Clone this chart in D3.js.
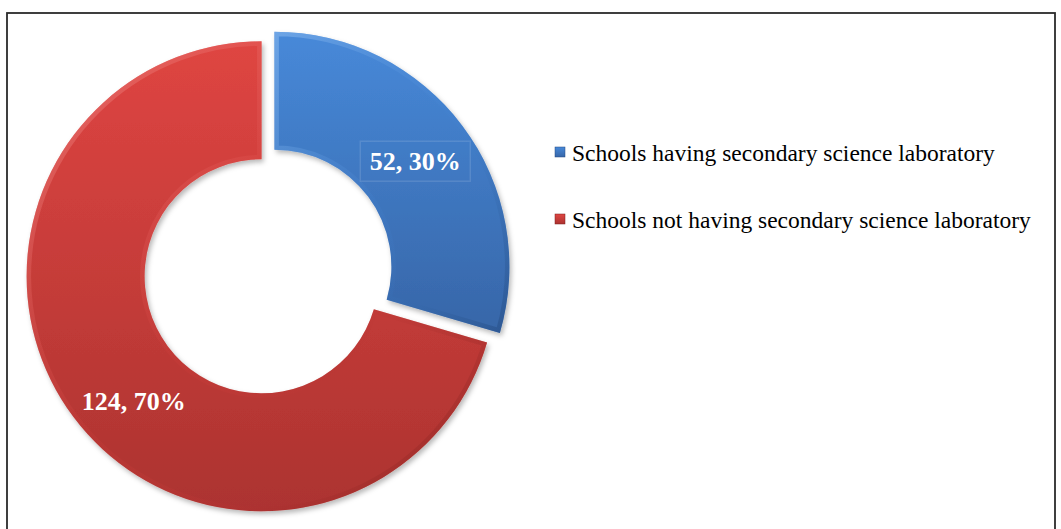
<!DOCTYPE html>
<html>
<head>
<meta charset="utf-8">
<script src="https://cdn.jsdelivr.net/npm/d3@7"></script>
<style>
  body { margin: 0; background: #fff; }
  svg { display: block; }
</style>
</head>
<body>
<div id="chart_root"></div>
<script>
const categories = ["Schools having secondary science laboratory",
    "Schools not having secondary science laboratory"];
const counts = [52, 124];
const percents = ["30%", "70%"];

const width = 1061;
const height = 529;
const center = { x: 268, y: 271.5 };
const outerR = 235;
const innerR = 117;
const explode = 8;
// small nudges to where the data labels sit relative to the slice centroid
const labelShift = [[0, 0], [13, 19]];

const colors = [
    { top: "#4789d9", bottom: "#3766a8", light: "#8fbdf0", dark: "#244a80" },
    { top: "#df4542", bottom: "#ac3330", light: "#f29a97", dark: "#7c1f1d" }
];

const svg = d3.select("#chart_root")
    .append("svg")
    .attr("width", width)
    .attr("height", height)
    .style("font-family", "'Liberation Serif', 'Times New Roman', serif");

const defs = svg.append("defs");

colors.forEach((c, i) => {
    const g = defs.append("linearGradient")
        .attr("id", "fill" + i)
        .attr("x1", 0).attr("y1", 0).attr("x2", 0).attr("y2", 1);
    g.append("stop").attr("offset", "0%").attr("stop-color", c.top);
    g.append("stop").attr("offset", "100%").attr("stop-color", c.bottom);

    const e = defs.append("linearGradient")
        .attr("id", "edge" + i)
        .attr("x1", 0).attr("y1", 0).attr("x2", 1).attr("y2", 1);
    e.append("stop").attr("offset", "0%").attr("stop-color", c.light);
    e.append("stop").attr("offset", "50%").attr("stop-color", c.top).attr("stop-opacity", 0.2);
    e.append("stop").attr("offset", "100%").attr("stop-color", c.dark);
});

const shadow = defs.append("filter")
    .attr("id", "shadow")
    .attr("x", "-10%").attr("y", "-10%")
    .attr("width", "130%").attr("height", "130%");
shadow.append("feDropShadow")
    .attr("dx", 2).attr("dy", 3)
    .attr("stdDeviation", 2.5)
    .attr("flood-color", "#000")
    .attr("flood-opacity", 0.28);

// outer frame
svg.append("rect")
    .attr("x", 7)
    .attr("y", 13)
    .attr("width", 1048)
    .attr("height", 540)
    .attr("fill", "none")
    .attr("stroke", "#2b2b2b")
    .attr("stroke-width", 1.8);

const pie = d3.pie().sort(null).value(d => d);
const arcs = pie(counts);

const arc = d3.arc()
    .innerRadius(innerR)
    .outerRadius(outerR);

const offset = (d) => {
    const mid = (d.startAngle + d.endAngle) / 2;
    return [center.x + explode * Math.sin(mid), center.y - explode * Math.cos(mid)];
};

const slices = svg.append("g")
    .selectAll("g")
    .data(arcs)
    .enter()
    .append("g")
    .attr("transform", d => "translate(" + offset(d) + ")");

slices.append("clipPath")
    .attr("id", (d, i) => "clip" + i)
    .append("path")
    .attr("d", arc);

slices.append("path")
    .attr("d", arc)
    .attr("fill", (d, i) => "url(#fill" + i + ")")
    .attr("filter", "url(#shadow)");

// bevel edge
slices.append("path")
    .attr("d", arc)
    .attr("fill", "none")
    .attr("stroke", (d, i) => "url(#edge" + i + ")")
    .attr("stroke-width", 9)
    .attr("stroke-linejoin", "miter")
    .attr("stroke-opacity", 0.55)
    .attr("clip-path", (d, i) => "url(#clip" + i + ")");

// data labels
const labels = slices.append("g")
    .attr("transform", (d, i) => {
        const c = arc.centroid(d);
        return "translate(" + (c[0] + labelShift[i][0]) + "," + (c[1] + labelShift[i][1]) + ")";
    });

labels.filter((d, i) => i === 0)
    .append("rect")
    .attr("x", -55)
    .attr("y", -20)
    .attr("width", 110)
    .attr("height", 40)
    .attr("fill", "none")
    .attr("stroke", "#ffffff")
    .attr("stroke-opacity", 0.12)
    .attr("stroke-width", 1.5);

labels.append("text")
    .attr("text-anchor", "middle")
    .attr("dy", "0.35em")
    .attr("fill", "#fff")
    .style("font-size", "26px")
    .style("font-weight", "bold")
    .text((d, i) => counts[i] + ", " + percents[i]);

// legend
const legend = svg.append("g")
    .selectAll("g")
    .data(categories)
    .enter()
    .append("g")
    .attr("transform", (d, i) => "translate(555," + (147 + i * 67) + ")");

legend.append("rect")
    .attr("width", 10)
    .attr("height", 10)
    .attr("fill", (d, i) => "url(#fill" + i + ")")
    .attr("stroke", (d, i) => colors[i].dark)
    .attr("stroke-width", 0.5);

legend.append("text")
    .attr("x", 17)
    .attr("y", 14)
    .attr("fill", "#000")
    .style("font-size", "23.5px")
    .text(d => d);
</script>
</body>
</html>
